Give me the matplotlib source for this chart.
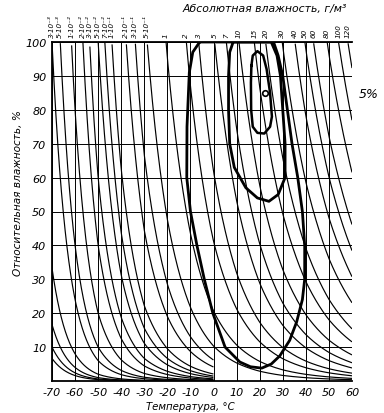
import numpy as np
import matplotlib
matplotlib.use("Agg")
import matplotlib.pyplot as plt

# Насыщающая абсолютная влажность (г/м3) по температуре
sat_temp = [-70, -60, -50, -40, -30, -20, -10, 0, 10, 20, 30, 40, 50, 60]
sat_abs = [0.003, 0.0125, 0.05, 0.16, 0.45, 1.05, 2.3, 4.85, 9.4, 17.3, 30.4, 51.1, 83.0, 130.0]

# Изолинии абсолютной влажности, подписанные сверху
abs_levels = [3e-3, 5e-3, 1e-2, 2e-2, 3e-2, 5e-2, 7e-2, 1e-1, 2e-1, 3e-1, 5e-1,
              1, 2, 3, 5, 7, 10, 15, 20, 30, 40, 50, 60, 80, 100, 120]
abs_labels = ['3·10⁻³', '5·10⁻³', '1·10⁻²', '2·10⁻²', '3·10⁻²', '5·10⁻²', '7·10⁻²',
              '1·10⁻¹', '2·10⁻¹', '3·10⁻¹', '5·10⁻¹',
              '1', '2', '3', '5', '7', '10', '15', '20', '30', '40', '50', '60', '80', '100', '120']
# Изолинии, входящие слева (без подписи)
abs_extra = [1e-3, 5e-4, 3e-4, 2e-4]

# Контуры повторяемости (температура, отн. влажность)
outer_t = [-6, -9, -10.5, -11.5, -11.6, -10, -7.2, -4, -0.3, 5, 11.4, 16, 20.9, 25, 28.7, 33, 36,
           38.5, 39.5, 39.5, 38.5, 36.5, 34, 32, 30, 28, 26, -6]
outer_rh = [100, 97, 91, 75, 60, 50, 40, 30, 20, 10, 5.6, 4.2, 3.8, 5, 7.4, 12, 17.4,
            24, 30, 40, 50, 60, 70, 80, 90, 96, 100, 100]
middle_t = [8.5, 7, 6.5, 6.5, 7, 9, 14, 19, 24, 28, 31, 31, 30, 29, 27.5, 25, 8.5]
middle_rh = [100, 97, 90, 80, 70, 63, 57, 54, 53, 55, 60, 70, 80, 90, 96, 100, 100]
inner_t = [16.4, 17, 19, 21.5, 23, 24.5, 25.3, 24.5, 22, 19, 17, 16.3, 16.2, 16.4]
inner_rh = [93, 96, 97.3, 96, 92, 85, 78, 75, 73, 73.2, 75, 80, 88, 93]
point_t, point_rh = 22.5, 85

x_ticks = [-70, -60, -50, -40, -30, -20, -10, 0, 10, 20, 30, 40, 50, 60]
y_ticks = [10, 20, 30, 40, 50, 60, 70, 80, 90, 100]

fig = plt.figure(figsize=(3.84, 4.14), dpi=100)
ax = fig.add_axes([52 / 384, 1 - 382 / 414, 300 / 384, 339 / 414])

T = np.linspace(-70, 60, 1300)
a_sat = np.exp(np.interp(T, sat_temp, np.log(sat_abs)))

def draw_level(a, cut_zero):
    rh = 100 * a / a_sat
    rh = np.where(rh <= 100, rh, np.nan)
    if cut_zero:
        rh = np.where(T <= 0, rh, np.nan)
    ax.plot(T, rh, color='black', lw=0.85, solid_capstyle='butt')

for a in abs_extra:
    draw_level(a, True)
for a, lab in zip(abs_levels, abs_labels):
    draw_level(a, a < 0.5)
    t_dew = np.interp(np.log(a), np.log(sat_abs), sat_temp)
    ax.text(t_dew, 101.5, lab, rotation=90, ha='center', va='bottom', fontsize=5.2,
            style='italic', clip_on=False)

ax.plot(outer_t, outer_rh, color='black', lw=2.0)
ax.plot(middle_t, middle_rh, color='black', lw=2.0)
ax.plot(inner_t, inner_rh, color='black', lw=1.8)
ax.plot(point_t, point_rh, 'o', ms=4, mfc='white', mec='black', mew=1.2)

ax.set_xlim(-70, 60)
ax.set_ylim(0, 100)
ax.set_xticks(x_ticks)
ax.set_yticks(y_ticks)
ax.set_xticklabels([str(v) for v in x_ticks], style='italic', fontsize=8)
ax.set_yticklabels([str(v) for v in y_ticks], style='italic', fontsize=8)
ax.tick_params(length=0, pad=4)
ax.grid(True, color='black', lw=0.7)
ax.set_axisbelow(True)
for s in ['left', 'top', 'bottom']:
    ax.spines[s].set_linewidth(1.3)
ax.spines['right'].set_visible(False)

fig.text(265 / 384, 1 - 9 / 414, 'Абсолютная влажность, г/м³', ha='center', va='center',
         style='italic', fontsize=7.8)
fig.text(190 / 384, 1 - 407 / 414, 'Температура, °С', ha='center', va='center',
         style='italic', fontsize=7.3)
fig.text(18 / 384, 1 - 193 / 414, 'Относительная влажность, %', ha='center', va='center',
         rotation=90, style='italic', fontsize=7.6)
fig.text(369 / 384, 1 - 95 / 414, '5%', ha='center', va='center', style='italic', fontsize=9)

fig.savefig('out.png', dpi=100)
